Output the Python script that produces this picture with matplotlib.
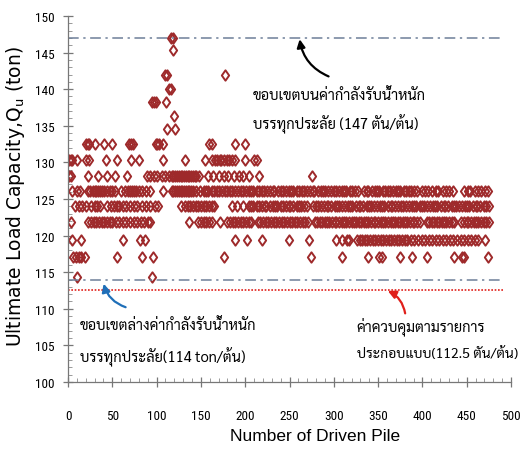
import matplotlib
matplotlib.use("Agg")
import matplotlib.pyplot as plt
from matplotlib import font_manager
from matplotlib.path import Path


def pick(cands, default="DejaVu Sans"):
    avail = {f.name for f in font_manager.fontManager.ttflist}
    for c in cands:
        if c in avail:
            return c
    return default


thai_font = pick(["Sarabun", "Noto Sans Thai", "Noto Sans Thai Looped", "Anuphan", "Bai Jamjuree"])
num_font = pick(["Liberation Sans Narrow", "Roboto Condensed", "Archivo Narrow", "PT Sans Narrow"], "Liberation Sans")
lab_font = pick(["Liberation Sans", "Arial"])

# pile numbers, grouped by capacity level (ton)
p147 = [116, 118]
p145 = [119]
p142 = [110, 112, 177]
p140 = [114, 116]
p138 = [95, 97, 99, 111]
p136 = [120]
p134 = [112, 121]
p132 = [20, 22, 24, 31, 41, 50, 69, 71, 73, 99, 101, 103, 107, 159, 163, 189, 200]
p130 = [1, 3, 5, 10, 20, 24, 43, 55, 71, 80, 107, 132, 155, 163, 166, 168, 171, 173,
        176, 179, 182, 185, 189, 200, 210, 213]
p128 = [1, 3, 23, 34, 44, 53, 67, 89, 93, 97, 101, 106, 110, 114, 117, 119, 121, 123,
        125, 127, 129, 131, 133, 135, 137, 139, 141, 143, 145, 148, 158, 164, 170, 176,
        181, 187, 193, 198, 204, 215, 275]
p126 = [5, 10, 14, 22, 25, 28, 30, 32, 34, 36, 38, 41, 44, 47, 50, 53, 60, 64, 68, 70,
        72, 74, 77, 80, 84, 88, 92, 107, 117, 119, 121, 123, 125, 127, 129, 131, 133,
        135, 137, 139, 141, 145, 149, 153, 156, 158, 162, 165, 168, 170, 174, 177, 180,
        183, 185, 189, 192, 195, 197, 201, 204, 207, 209, 213, 216, 219, 221, 225, 228,
        231, 233, 237, 240, 243, 246, 249, 252, 254, 258, 261, 264, 266, 270, 273, 276,
        278, 282, 285, 288, 290, 294, 297, 300, 302, 306, 309, 312, 314, 318, 321, 324,
        327, 334, 337, 339, 343, 346, 349, 351, 355, 358, 361, 363, 367, 370, 373, 375,
        379, 382, 385, 387, 391, 394, 399, 403, 406, 411, 415, 418, 423, 427, 430, 435,
        447, 451, 454, 459, 463, 466, 471, 474]
p124 = [8, 12, 16, 20, 26, 30, 33, 36, 44, 48, 52, 55, 58, 62, 66, 70, 74, 78, 83, 88,
        93, 98, 102, 128, 132, 135, 138, 141, 144, 147, 150, 153, 156, 159, 162, 165,
        185, 191, 198, 204, 207, 209, 213, 216, 219, 222, 224, 228, 231, 234, 236, 240,
        243, 246, 249, 251, 254, 258, 261, 263, 266, 270, 277, 280, 282, 285, 289, 292,
        294, 297, 301, 304, 306, 309, 313, 316, 318, 321, 325, 328, 330, 333, 337, 340,
        342, 345, 349, 352, 354, 357, 361, 364, 366, 369, 373, 376, 378, 381, 385, 388,
        390, 393, 397, 400, 402, 405, 409, 412, 414, 417, 421, 424, 426, 429, 433, 436,
        438, 441, 445, 448, 450, 453, 457, 460, 462, 465, 469, 472, 475]
p122 = [3, 23, 26, 29, 32, 35, 38, 41, 44, 47, 50, 54, 58, 62, 66, 70, 74, 78, 82, 86,
        90, 93, 137, 147, 150, 153, 156, 159, 162, 172, 180, 183, 186, 189, 192, 195,
        198, 201, 204, 207, 214, 217, 220, 223, 226, 229, 232, 235, 238, 241, 244, 247,
        250, 253, 256, 259, 262, 265, 268, 271, 279, 281, 284, 287, 290, 292, 295, 298,
        301, 303, 306, 309, 312, 314, 317, 320, 323, 325, 328, 331, 334, 336, 339, 342,
        345, 347, 350, 353, 356, 358, 361, 364, 367, 369, 372, 375, 378, 380, 383, 386,
        389, 391, 394, 397, 405, 408, 411, 413, 416, 419, 422, 424, 427, 430, 433, 436,
        444, 447, 450, 452, 455, 458, 461, 463, 466, 469, 472, 475]
p119 = [4, 15, 62, 81, 87, 189, 202, 219, 249, 272, 302, 309, 315, 317, 326, 329, 332,
        335, 338, 341, 344, 347, 350, 353, 356, 359, 362, 365, 368, 371, 374, 377, 380,
        383, 387, 391, 395, 399, 403, 407, 411, 415, 419, 423, 427, 431, 435, 439, 443,
        447, 451, 455, 459, 463, 471]
p117 = [6, 9, 12, 15, 19, 55, 83, 96, 176, 274, 309, 339, 351, 354, 375, 388, 405,
        436, 445, 447, 474]
p114 = [10, 95]

levels = [147.0, 145.3, 141.9, 140.0, 138.2, 136.4, 134.5, 132.5, 130.3, 128.2,
          126.1, 124.1, 121.9, 119.4, 117.1, 114.4]
piles = [p147, p145, p142, p140, p138, p136, p134, p132, p130, p128,
         p126, p124, p122, p119, p117, p114]

upper_limit = 147
lower_limit = 114
design_load = 112.5

diamond = Path([(0, 1), (0.7, 0), (0, -1), (-0.7, 0), (0, 1)],
               [Path.MOVETO, Path.LINETO, Path.LINETO, Path.LINETO, Path.CLOSEPOLY])

fig = plt.figure(figsize=(5.26, 4.6), dpi=100)
ax = fig.add_axes([0.1293, 0.1674, 0.8422, 0.7957])

mcol = "#9e2a2b"
for lv, px in zip(levels, piles):
    ax.plot(px, [lv] * len(px), linestyle="none", marker=diamond, markersize=7.5,
            markerfacecolor="none", markeredgecolor=mcol, markeredgewidth=1.4)

lcol = "#6d7f99"
ax.hlines(upper_limit, 0, 492, colors=lcol, linewidth=1.1, linestyles=(0, (7, 3, 1.5, 3)))
ax.hlines(lower_limit, 0, 492, colors=lcol, linewidth=1.1, linestyles=(0, (7, 3, 1.5, 3)))
ax.hlines(design_load, 0, 492, colors="#e0201b", linewidth=1.2, linestyles=(0, (1, 1)))

ax.annotate("", xy=(261, 147.2), xytext=(297, 141.6),
            arrowprops=dict(arrowstyle="-|>", color="black", lw=1.6,
                            connectionstyle="arc3,rad=-0.3", mutation_scale=12))
ax.annotate("", xy=(39.5, 113.8), xytext=(68, 110.1),
            arrowprops=dict(arrowstyle="-|>", color="#1f6fb8", lw=1.6,
                            connectionstyle="arc3,rad=-0.3", mutation_scale=12))
ax.annotate("", xy=(358, 112.6), xytext=(381, 109.0),
            arrowprops=dict(arrowstyle="-|>", color="#e0201b", lw=1.6,
                            connectionstyle="arc3,rad=0.3", mutation_scale=12))

tfam = [thai_font, "DejaVu Sans"]
ax.text(209, 139.3, "ขอบเขตบนค่ากำลังรับน้ำหนัก", family=tfam, fontsize=10.5, va="center")
ax.text(209, 135.4, "บรรทุกประลัย (147 ตัน/ต้น)", family=tfam, fontsize=10.5, va="center")
ax.text(13, 107.8, "ขอบเขตล่างค่ากำลังรับน้ำหนัก", family=tfam, fontsize=10.5, va="center")
ax.text(13, 103.5, "บรรทุกประลัย(114 ton/ต้น)", family=tfam, fontsize=10.5, va="center")
ax.text(326, 107.7, "ค่าควบคุมตามรายการ", family=tfam, fontsize=10.5, va="center")
ax.text(326, 104.0, "ประกอบแบบ(112.5 ตัน/ต้น)", family=tfam, fontsize=10, va="center")

ax.set_xlim(0, 500)
ax.set_ylim(100, 150)
ax.set_xticks(range(0, 501, 50))
ax.set_yticks(range(100, 151, 5))
ax.set_xticks(range(0, 501, 10), minor=True)
ax.set_yticks(range(100, 151, 1), minor=True)
for s in ["top", "right"]:
    ax.spines[s].set_visible(False)
for s in ["left", "bottom"]:
    ax.spines[s].set_color("#777777")
    ax.spines[s].set_linewidth(0.9)
ax.tick_params(which="major", direction="inout", length=7, width=0.9, color="#777777",
               labelsize=9.5)
ax.tick_params(which="minor", direction="in", length=3, width=0.7, color="#999999")
ax.tick_params(axis="x", which="major", pad=16)
ax.tick_params(axis="y", which="major", pad=6)
for lab in ax.get_xticklabels() + ax.get_yticklabels():
    lab.set_family(num_font)

ax.set_xlabel("Number of Driven Pile", family=lab_font, fontsize=12.5)
ax.set_ylabel("Ultimate Load Capacity,Q$_{\\mathregular{u}}$ (ton)", family="DejaVu Sans",
              fontsize=13.5)
ax.xaxis.set_label_coords(0.557, -0.125)
ax.yaxis.set_label_coords(-0.092, 0.51)

fig.savefig("out.png", dpi=100)
